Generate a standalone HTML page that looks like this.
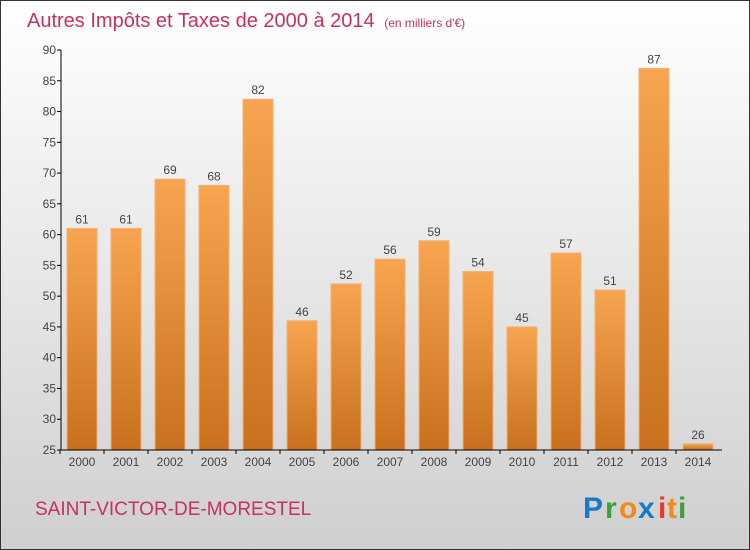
<!DOCTYPE html>
<html><head><meta charset="utf-8"><style>
body{margin:0;width:750px;height:550px;overflow:hidden}
svg{display:block;font-family:"Liberation Sans",sans-serif}
</style></head><body>
<svg width="750" height="550">
<defs>
<linearGradient id="bg" x1="0" y1="0" x2="0" y2="1"><stop offset="0" stop-color="#ffffff"/><stop offset="1" stop-color="#cfcfcf"/></linearGradient>
<linearGradient id="bar" x1="0" y1="0" x2="0" y2="1"><stop offset="0" stop-color="#f7a550"/><stop offset="1" stop-color="#c8701e"/></linearGradient>
</defs>
<rect x="0.5" y="0.5" width="749" height="549" fill="url(#bg)" stroke="#333"/>
<text x="27" y="27" font-size="20" fill="#c8305f">Autres Impôts et Taxes de 2000 à 2014 <tspan font-size="12" dx="4">(en milliers d'€)</tspan></text>
<g id="plot"></g>
<text x="35" y="515" font-size="19" fill="#c8305f">SAINT-VICTOR-DE-MORESTEL</text>
<g font-size="30" font-weight="bold">
<text x="583" y="518" fill="#1a78c8">P</text><text x="605" y="518" fill="#3aa040">r</text><text x="619" y="518" fill="#f08a1c">o</text><text x="638" y="518" fill="#1a78c8">x</text><text x="658" y="518" fill="#e83a2a">i</text><text x="667" y="518" fill="#f08a1c">t</text><text x="678" y="518" fill="#3aa040">i</text>
</g>
</svg>
<script>
const categories=["2000","2001","2002","2003","2004","2005","2006","2007","2008","2009","2010","2011","2012","2013","2014"];
const values=[61,61,69,68,82,46,52,56,59,54,45,57,51,87,26];
const yTicks=[25,30,35,40,45,50,55,60,65,70,75,80,85,90];
const NS="http://www.w3.org/2000/svg";
const plotG=document.getElementById('plot');
const yMin=25,yMax=90,plotTop=50,plotBot=450;
const yScale=v=>plotBot-(v-yMin)/(yMax-yMin)*(plotBot-plotTop);
const xScale=i=>82+i*44;
function mk(t,a,txt){const e=document.createElementNS(NS,t);for(const k in a)e.setAttribute(k,a[k]);if(txt!==undefined)e.textContent=txt;plotG.appendChild(e);return e;}
values.forEach((v,i)=>{
 const r=mk('rect',{x:xScale(i)-15,y:yScale(v),width:30,height:plotBot-yScale(v),fill:'url(#bar)',stroke:'#f5b070','stroke-width':1});
 
 
 const t=mk('text',{x:xScale(i),y:yScale(v)-5,'font-size':12,fill:'#444','text-anchor':'middle'},String(v));
 
 
 const c=mk('text',{x:xScale(i),y:466,'font-size':12,fill:'#444','text-anchor':'middle'},categories[i]);
 
 
 mk('line',{x1:xScale(i)-22,x2:xScale(i)-22,y1:plotBot,y2:plotBot+4,stroke:'#000'});
});
yTicks.forEach(v=>{
 mk('line',{x1:57,x2:61,y1:yScale(v),y2:yScale(v),stroke:'#000'});
 const t=mk('text',{x:56,y:yScale(v)+4,'font-size':12,fill:'#444','text-anchor':'end'},String(v));
 
 
});
const ya=mk('line',{x1:61,x2:61,y1:plotTop,y2:plotBot,stroke:'#000'});


const xa=mk('line',{x1:61,x2:722,y1:plotBot,y2:plotBot,stroke:'#000'});


</script>
</body></html>
